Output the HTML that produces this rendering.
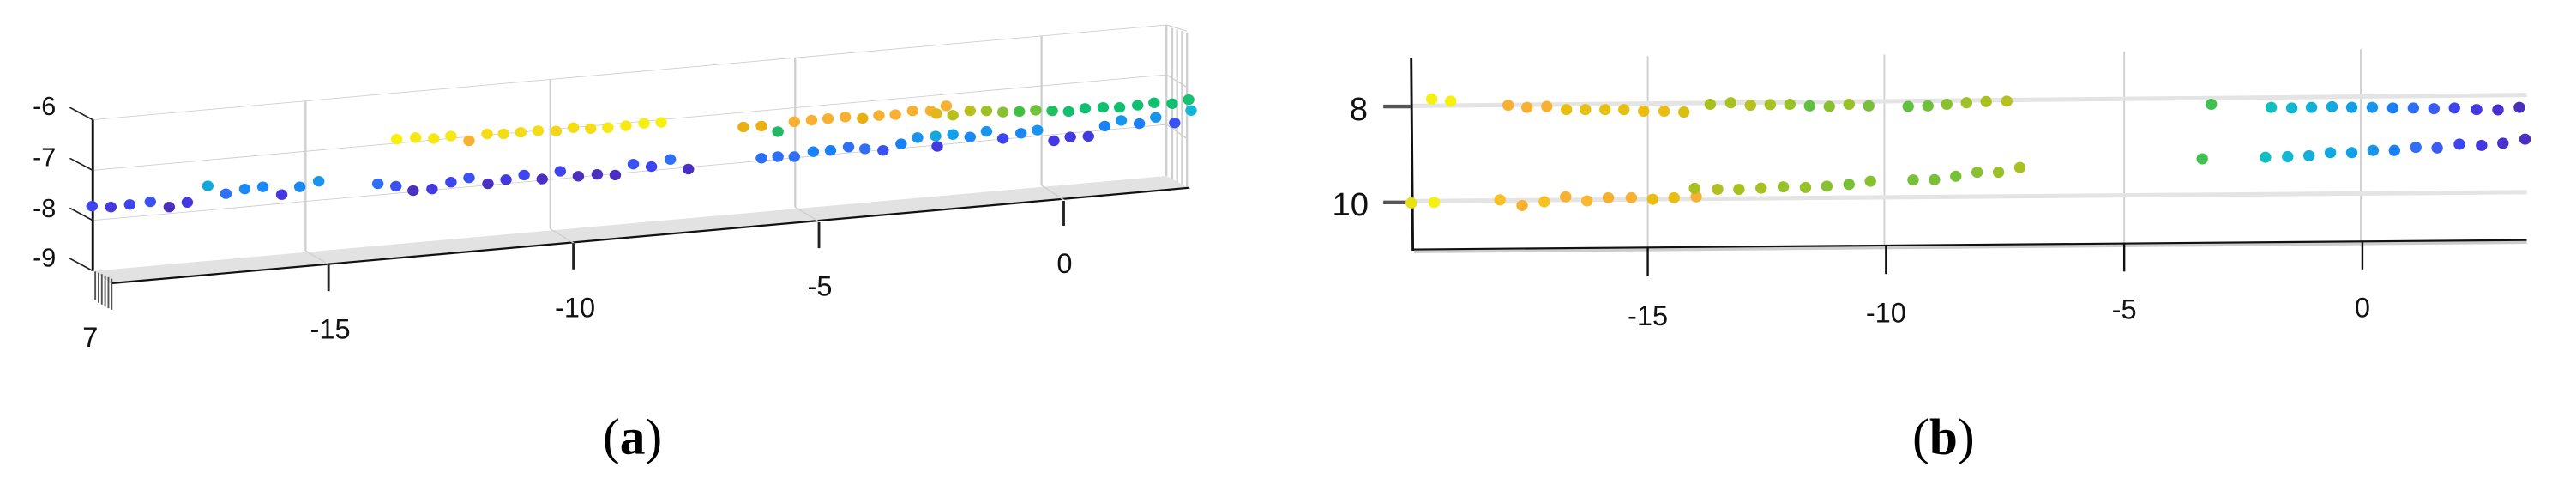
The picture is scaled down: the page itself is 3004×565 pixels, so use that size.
<!DOCTYPE html>
<html><head><meta charset="utf-8"><style>
html,body{margin:0;padding:0;background:#fff;}
svg{display:block;}
</style></head><body>
<svg width="3004" height="565" viewBox="0 0 1568 295" preserveAspectRatio="none" xmlns="http://www.w3.org/2000/svg">
<rect width="1568" height="295" fill="#fff"/>
<g transform="scale(0.5,0.1894)">
  <polygon points="115,870 1420,565 1445,600 135,910" fill="#e2e2e2"/>
  <line x1="135" y1="910" x2="1448" y2="603" stroke="#111" stroke-width="6"/>
  <g stroke="#cfcfcf" stroke-width="2.4" fill="none">
    <line x1="112" y1="385" x2="1420" y2="80"/>
    <line x1="112" y1="547" x2="1420" y2="240"/>
    <line x1="112" y1="708" x2="1420" y2="400"/>
    <line x1="1420" y1="240" x2="1445" y2="280"/>
    <line x1="1420" y1="400" x2="1445" y2="445"/>
    <line x1="1420" y1="80" x2="1445" y2="100"/>
    <line x1="372" y1="325" x2="372" y2="805"/>
    <line x1="670" y1="255" x2="670" y2="735"/>
    <line x1="968" y1="185" x2="968" y2="665"/>
    <line x1="1268" y1="115" x2="1268" y2="595"/>
    <line x1="1420" y1="80" x2="1420" y2="565"/>
    <line x1="1427" y1="90" x2="1427" y2="575"/>
    <line x1="1433" y1="95" x2="1433" y2="585"/>
    <line x1="1439" y1="100" x2="1439" y2="592"/>
    <line x1="1445" y1="105" x2="1445" y2="600"/>
    <line x1="372" y1="805" x2="400" y2="850"/>
    <line x1="670" y1="735" x2="698" y2="780"/>
    <line x1="968" y1="665" x2="997" y2="712"/>
    <line x1="1268" y1="595" x2="1295" y2="642"/>
  </g>
  <line x1="113" y1="385" x2="113" y2="870" stroke="#111" stroke-width="3"/>
  <g stroke="#222" stroke-width="3">
    <line x1="85" y1="345" x2="113" y2="385"/>
    <line x1="85" y1="508" x2="113" y2="547"/>
    <line x1="85" y1="668" x2="113" y2="708"/>
    <line x1="85" y1="830" x2="113" y2="870"/>
    <line x1="400" y1="850" x2="400" y2="935"/>
    <line x1="698" y1="782" x2="698" y2="865"/>
    <line x1="997" y1="714" x2="997" y2="797"/>
    <line x1="1295" y1="645" x2="1295" y2="725"/>
  </g>
  <g stroke="#555" stroke-width="2">
    <line x1="116" y1="872" x2="116" y2="965"/>
    <line x1="120" y1="876" x2="120" y2="972"/>
    <line x1="124" y1="880" x2="124" y2="978"/>
    <line x1="128" y1="885" x2="128" y2="985"/>
    <line x1="132" y1="890" x2="132" y2="990"/>
    <line x1="136" y1="895" x2="136" y2="995"/>
  </g>
  <g>
    <ellipse cx="112" cy="662" rx="7" ry="17" fill="#3e45ee"/>
    <ellipse cx="135" cy="665" rx="7" ry="17" fill="#4438e0"/>
    <ellipse cx="158" cy="657" rx="7" ry="17" fill="#3e45ee"/>
    <ellipse cx="183" cy="648" rx="7" ry="17" fill="#3a52f5"/>
    <ellipse cx="206" cy="665" rx="7" ry="17" fill="#4a2fc0"/>
    <ellipse cx="228" cy="650" rx="7" ry="17" fill="#4438e0"/>
    <ellipse cx="253" cy="597" rx="7" ry="17" fill="#12a8e0"/>
    <ellipse cx="275" cy="622" rx="7" ry="17" fill="#2f6ff8"/>
    <ellipse cx="298" cy="607" rx="7" ry="17" fill="#1a88f5"/>
    <ellipse cx="320" cy="600" rx="7" ry="17" fill="#1a88f5"/>
    <ellipse cx="343" cy="625" rx="7" ry="17" fill="#4438e0"/>
    <ellipse cx="365" cy="600" rx="7" ry="17" fill="#1a88f5"/>
    <ellipse cx="388" cy="582" rx="7" ry="17" fill="#1a95ee"/>
    <ellipse cx="460" cy="590" rx="7" ry="17" fill="#2f6ff8"/>
    <ellipse cx="482" cy="598" rx="7" ry="17" fill="#3a52f5"/>
    <ellipse cx="503" cy="612" rx="7" ry="17" fill="#4a2fc0"/>
    <ellipse cx="526" cy="607" rx="7" ry="17" fill="#4438e0"/>
    <ellipse cx="549" cy="585" rx="7" ry="17" fill="#3e45ee"/>
    <ellipse cx="571" cy="571" rx="7" ry="17" fill="#3a52f5"/>
    <ellipse cx="594" cy="590" rx="7" ry="17" fill="#4a2fc0"/>
    <ellipse cx="616" cy="577" rx="7" ry="17" fill="#4438e0"/>
    <ellipse cx="638" cy="562" rx="7" ry="17" fill="#3e45ee"/>
    <ellipse cx="660" cy="575" rx="7" ry="17" fill="#4a2fc0"/>
    <ellipse cx="682" cy="550" rx="7" ry="17" fill="#3e45ee"/>
    <ellipse cx="704" cy="566" rx="7" ry="17" fill="#4a2fc0"/>
    <ellipse cx="727" cy="560" rx="7" ry="17" fill="#4a2fc0"/>
    <ellipse cx="749" cy="562" rx="7" ry="17" fill="#4a2fc0"/>
    <ellipse cx="771" cy="527" rx="7" ry="17" fill="#3a52f5"/>
    <ellipse cx="793" cy="535" rx="7" ry="17" fill="#3e45ee"/>
    <ellipse cx="816" cy="512" rx="7" ry="17" fill="#2f6ff8"/>
    <ellipse cx="838" cy="543" rx="7" ry="17" fill="#4a2fc0"/>
    <ellipse cx="483" cy="447" rx="7" ry="17" fill="#f5f010"/>
    <ellipse cx="506" cy="442" rx="7" ry="17" fill="#f5e814"/>
    <ellipse cx="528" cy="445" rx="7" ry="17" fill="#f5e814"/>
    <ellipse cx="549" cy="437" rx="7" ry="17" fill="#f5e814"/>
    <ellipse cx="571" cy="452" rx="7" ry="17" fill="#f8b030"/>
    <ellipse cx="593" cy="430" rx="7" ry="17" fill="#f5dc18"/>
    <ellipse cx="613" cy="430" rx="7" ry="17" fill="#f5dc18"/>
    <ellipse cx="634" cy="425" rx="7" ry="17" fill="#f5dc18"/>
    <ellipse cx="655" cy="420" rx="7" ry="17" fill="#f5dc18"/>
    <ellipse cx="677" cy="421" rx="7" ry="17" fill="#f5d41c"/>
    <ellipse cx="698" cy="410" rx="7" ry="17" fill="#f5dc18"/>
    <ellipse cx="719" cy="413" rx="7" ry="17" fill="#f5dc18"/>
    <ellipse cx="740" cy="410" rx="7" ry="17" fill="#f5e814"/>
    <ellipse cx="762" cy="404" rx="7" ry="17" fill="#f5e814"/>
    <ellipse cx="784" cy="396" rx="7" ry="17" fill="#f5f010"/>
    <ellipse cx="805" cy="393" rx="7" ry="17" fill="#f5f010"/>
    <ellipse cx="905" cy="408" rx="7" ry="17" fill="#e8b010"/>
    <ellipse cx="927" cy="405" rx="7" ry="17" fill="#e8b010"/>
    <ellipse cx="947" cy="423" rx="7" ry="17" fill="#20b860"/>
    <ellipse cx="967" cy="391" rx="7" ry="17" fill="#f8b030"/>
    <ellipse cx="988" cy="386" rx="7" ry="17" fill="#f8b030"/>
    <ellipse cx="1008" cy="381" rx="7" ry="17" fill="#f8b030"/>
    <ellipse cx="1029" cy="376" rx="7" ry="17" fill="#f8b030"/>
    <ellipse cx="1050" cy="380" rx="7" ry="17" fill="#e8b010"/>
    <ellipse cx="1070" cy="371" rx="7" ry="17" fill="#f8b030"/>
    <ellipse cx="1090" cy="368" rx="7" ry="17" fill="#f8b030"/>
    <ellipse cx="1111" cy="356" rx="7" ry="17" fill="#f8b030"/>
    <ellipse cx="1133" cy="356" rx="7" ry="17" fill="#f8b030"/>
    <ellipse cx="1140" cy="365" rx="7" ry="17" fill="#e0b818"/>
    <ellipse cx="1152" cy="340" rx="7" ry="17" fill="#f8b030"/>
    <ellipse cx="1160" cy="370" rx="7" ry="17" fill="#b8c020"/>
    <ellipse cx="1181" cy="356" rx="7" ry="17" fill="#b8c020"/>
    <ellipse cx="1201" cy="356" rx="7" ry="17" fill="#a0c028"/>
    <ellipse cx="1221" cy="360" rx="7" ry="17" fill="#88c030"/>
    <ellipse cx="1241" cy="358" rx="7" ry="17" fill="#40c040"/>
    <ellipse cx="1261" cy="354" rx="7" ry="17" fill="#70c038"/>
    <ellipse cx="1281" cy="356" rx="7" ry="17" fill="#20c060"/>
    <ellipse cx="1301" cy="358" rx="7" ry="17" fill="#10c070"/>
    <ellipse cx="1321" cy="348" rx="7" ry="17" fill="#10c070"/>
    <ellipse cx="1343" cy="345" rx="7" ry="17" fill="#10c070"/>
    <ellipse cx="1363" cy="345" rx="7" ry="17" fill="#10c070"/>
    <ellipse cx="1385" cy="338" rx="7" ry="17" fill="#10c070"/>
    <ellipse cx="1405" cy="330" rx="7" ry="17" fill="#10c070"/>
    <ellipse cx="1427" cy="333" rx="7" ry="17" fill="#10c070"/>
    <ellipse cx="1447" cy="320" rx="7" ry="17" fill="#18c070"/>
    <ellipse cx="1450" cy="355" rx="7" ry="17" fill="#10b8d8"/>
    <ellipse cx="927" cy="508" rx="7" ry="17" fill="#2f6ff8"/>
    <ellipse cx="947" cy="503" rx="7" ry="17" fill="#2f6ff8"/>
    <ellipse cx="967" cy="503" rx="7" ry="17" fill="#2f6ff8"/>
    <ellipse cx="990" cy="487" rx="7" ry="17" fill="#1a80f5"/>
    <ellipse cx="1011" cy="483" rx="7" ry="17" fill="#1a80f5"/>
    <ellipse cx="1033" cy="472" rx="7" ry="17" fill="#2f6ff8"/>
    <ellipse cx="1053" cy="478" rx="7" ry="17" fill="#2f6ff8"/>
    <ellipse cx="1075" cy="483" rx="7" ry="17" fill="#3a52f5"/>
    <ellipse cx="1097" cy="462" rx="7" ry="17" fill="#1a80f5"/>
    <ellipse cx="1117" cy="442" rx="7" ry="17" fill="#1a95ee"/>
    <ellipse cx="1139" cy="437" rx="7" ry="17" fill="#12a8e0"/>
    <ellipse cx="1141" cy="470" rx="7" ry="17" fill="#4438e0"/>
    <ellipse cx="1160" cy="432" rx="7" ry="17" fill="#12a0e8"/>
    <ellipse cx="1181" cy="440" rx="7" ry="17" fill="#1a88f5"/>
    <ellipse cx="1201" cy="422" rx="7" ry="17" fill="#1a95ee"/>
    <ellipse cx="1221" cy="445" rx="7" ry="17" fill="#3e45ee"/>
    <ellipse cx="1243" cy="428" rx="7" ry="17" fill="#1a88f5"/>
    <ellipse cx="1263" cy="418" rx="7" ry="17" fill="#1a95ee"/>
    <ellipse cx="1283" cy="452" rx="7" ry="17" fill="#4438e0"/>
    <ellipse cx="1303" cy="440" rx="7" ry="17" fill="#4438e0"/>
    <ellipse cx="1325" cy="438" rx="7" ry="17" fill="#4438e0"/>
    <ellipse cx="1345" cy="405" rx="7" ry="17" fill="#1a80f5"/>
    <ellipse cx="1365" cy="387" rx="7" ry="17" fill="#1a95ee"/>
    <ellipse cx="1387" cy="397" rx="7" ry="17" fill="#1a80f5"/>
    <ellipse cx="1407" cy="377" rx="7" ry="17" fill="#1a95ee"/>
    <ellipse cx="1430" cy="395" rx="7" ry="17" fill="#3a52f5"/>
  </g>
</g>
<g font-family="Liberation Sans, sans-serif" font-size="16" fill="#111" text-anchor="middle">
  <text x="27" y="70">-6</text>
  <text x="27" y="101">-7</text>
  <text x="27" y="132">-8</text>
  <text x="27" y="162">-9</text>
</g>
<g font-family="Liberation Sans, sans-serif" font-size="17" fill="#111" text-anchor="middle">
  <text x="55" y="211">7</text>
  <text x="201" y="206">-15</text>
  <text x="350" y="193">-10</text>
  <text x="499" y="180">-5</text>
  <text x="648" y="166">0</text>
</g>
<text x="385" y="276" font-family="Liberation Serif, serif" font-size="31" text-anchor="middle" fill="#000">(<tspan font-weight="bold">a</tspan>)</text>

<g transform="translate(783,0) scale(0.5,0.1894)">
  <g stroke="#d0d0d0" stroke-width="2">
    <line x1="440" y1="180" x2="440" y2="798"/>
    <line x1="728" y1="175" x2="728" y2="792"/>
    <line x1="1020" y1="165" x2="1020" y2="785"/>
    <line x1="1308" y1="158" x2="1308" y2="776"/>
  </g>
  <g stroke="#e4e4e4" stroke-width="14">
    <line x1="152" y1="340" x2="1510" y2="305"/>
    <line x1="152" y1="646" x2="1510" y2="617"/>
  </g>
  <line x1="155" y1="808" x2="1510" y2="778" stroke="#ccc" stroke-width="10"/>
  <line x1="155" y1="801" x2="1510" y2="771" stroke="#111" stroke-width="6"/>
  <line x1="152" y1="185" x2="154" y2="805" stroke="#111" stroke-width="3"/>
  <g stroke="#555" stroke-width="12">
    <line x1="118" y1="342" x2="152" y2="342"/>
    <line x1="118" y1="650" x2="152" y2="650"/>
  </g>
  <g stroke="#111" stroke-width="2.5">
    <line x1="440" y1="796" x2="440" y2="885"/>
    <line x1="730" y1="790" x2="730" y2="880"/>
    <line x1="1020" y1="784" x2="1020" y2="872"/>
    <line x1="1310" y1="776" x2="1310" y2="865"/>
  </g>
  <g>
    <ellipse cx="177" cy="318" rx="7" ry="18" fill="#f5f010"/>
    <ellipse cx="200" cy="325" rx="7" ry="18" fill="#f5f010"/>
    <ellipse cx="270" cy="338" rx="7" ry="18" fill="#f8b030"/>
    <ellipse cx="293" cy="345" rx="7" ry="18" fill="#f8b030"/>
    <ellipse cx="317" cy="342" rx="7" ry="18" fill="#f8b030"/>
    <ellipse cx="341" cy="352" rx="7" ry="18" fill="#e6c010"/>
    <ellipse cx="364" cy="352" rx="7" ry="18" fill="#e6c010"/>
    <ellipse cx="388" cy="352" rx="7" ry="18" fill="#e6c010"/>
    <ellipse cx="411" cy="352" rx="7" ry="18" fill="#e6c010"/>
    <ellipse cx="435" cy="357" rx="7" ry="18" fill="#ecbc10"/>
    <ellipse cx="460" cy="357" rx="7" ry="18" fill="#ecbc10"/>
    <ellipse cx="484" cy="360" rx="7" ry="18" fill="#d8c010"/>
    <ellipse cx="516" cy="335" rx="7" ry="18" fill="#a8c020"/>
    <ellipse cx="541" cy="330" rx="7" ry="18" fill="#a8c020"/>
    <ellipse cx="565" cy="338" rx="7" ry="18" fill="#b8c020"/>
    <ellipse cx="589" cy="336" rx="7" ry="18" fill="#a8c020"/>
    <ellipse cx="613" cy="335" rx="7" ry="18" fill="#98c028"/>
    <ellipse cx="637" cy="340" rx="7" ry="18" fill="#60c040"/>
    <ellipse cx="661" cy="342" rx="7" ry="18" fill="#88c030"/>
    <ellipse cx="685" cy="335" rx="7" ry="18" fill="#98c028"/>
    <ellipse cx="709" cy="340" rx="7" ry="18" fill="#78c038"/>
    <ellipse cx="757" cy="342" rx="7" ry="18" fill="#60c040"/>
    <ellipse cx="781" cy="340" rx="7" ry="18" fill="#70c038"/>
    <ellipse cx="804" cy="335" rx="7" ry="18" fill="#88c030"/>
    <ellipse cx="828" cy="330" rx="7" ry="18" fill="#a0c028"/>
    <ellipse cx="852" cy="326" rx="7" ry="18" fill="#a8c020"/>
    <ellipse cx="877" cy="325" rx="7" ry="18" fill="#b8c020"/>
    <ellipse cx="1126" cy="335" rx="7" ry="18" fill="#40c050"/>
    <ellipse cx="1199" cy="345" rx="7" ry="18" fill="#10c0c0"/>
    <ellipse cx="1224" cy="347" rx="7" ry="18" fill="#10b8d0"/>
    <ellipse cx="1248" cy="345" rx="7" ry="18" fill="#10b0d8"/>
    <ellipse cx="1273" cy="343" rx="7" ry="18" fill="#10a8e0"/>
    <ellipse cx="1297" cy="345" rx="7" ry="18" fill="#10a0e8"/>
    <ellipse cx="1322" cy="345" rx="7" ry="18" fill="#1a95ee"/>
    <ellipse cx="1347" cy="347" rx="7" ry="18" fill="#1a80f5"/>
    <ellipse cx="1372" cy="347" rx="7" ry="18" fill="#2f6ff8"/>
    <ellipse cx="1397" cy="349" rx="7" ry="18" fill="#3a5cf5"/>
    <ellipse cx="1422" cy="347" rx="7" ry="18" fill="#3e45ee"/>
    <ellipse cx="1449" cy="352" rx="7" ry="18" fill="#4438e0"/>
    <ellipse cx="1475" cy="353" rx="7" ry="18" fill="#4a30d0"/>
    <ellipse cx="1501" cy="345" rx="7" ry="18" fill="#4a2fc0"/>
    <ellipse cx="152" cy="652" rx="7" ry="18" fill="#e8e010"/>
    <ellipse cx="180" cy="650" rx="7" ry="18" fill="#f5f010"/>
    <ellipse cx="260" cy="642" rx="7" ry="18" fill="#f8c020"/>
    <ellipse cx="287" cy="660" rx="7" ry="18" fill="#f8b030"/>
    <ellipse cx="314" cy="648" rx="7" ry="18" fill="#f8c020"/>
    <ellipse cx="340" cy="632" rx="7" ry="18" fill="#f8b030"/>
    <ellipse cx="366" cy="645" rx="7" ry="18" fill="#f8b830"/>
    <ellipse cx="392" cy="635" rx="7" ry="18" fill="#f8b030"/>
    <ellipse cx="420" cy="635" rx="7" ry="18" fill="#f8b030"/>
    <ellipse cx="446" cy="640" rx="7" ry="18" fill="#e8bc10"/>
    <ellipse cx="472" cy="635" rx="7" ry="18" fill="#e8bc10"/>
    <ellipse cx="499" cy="632" rx="7" ry="18" fill="#f8b030"/>
    <ellipse cx="497" cy="605" rx="7" ry="18" fill="#a8c020"/>
    <ellipse cx="525" cy="608" rx="7" ry="18" fill="#b0c020"/>
    <ellipse cx="551" cy="608" rx="7" ry="18" fill="#a8c020"/>
    <ellipse cx="578" cy="604" rx="7" ry="18" fill="#a8c020"/>
    <ellipse cx="605" cy="600" rx="7" ry="18" fill="#98c028"/>
    <ellipse cx="632" cy="602" rx="7" ry="18" fill="#98c028"/>
    <ellipse cx="658" cy="598" rx="7" ry="18" fill="#88c030"/>
    <ellipse cx="685" cy="592" rx="7" ry="18" fill="#78c038"/>
    <ellipse cx="711" cy="582" rx="7" ry="18" fill="#88c030"/>
    <ellipse cx="763" cy="578" rx="7" ry="18" fill="#78c038"/>
    <ellipse cx="789" cy="577" rx="7" ry="18" fill="#78c038"/>
    <ellipse cx="815" cy="566" rx="7" ry="18" fill="#78c038"/>
    <ellipse cx="841" cy="553" rx="7" ry="18" fill="#88c030"/>
    <ellipse cx="867" cy="553" rx="7" ry="18" fill="#98c028"/>
    <ellipse cx="893" cy="538" rx="7" ry="18" fill="#a8c020"/>
    <ellipse cx="1115" cy="510" rx="7" ry="18" fill="#40c050"/>
    <ellipse cx="1192" cy="505" rx="7" ry="18" fill="#10c0c0"/>
    <ellipse cx="1219" cy="503" rx="7" ry="18" fill="#10b8d0"/>
    <ellipse cx="1245" cy="500" rx="7" ry="18" fill="#10b0d8"/>
    <ellipse cx="1271" cy="490" rx="7" ry="18" fill="#10a8e0"/>
    <ellipse cx="1297" cy="490" rx="7" ry="18" fill="#10a0e8"/>
    <ellipse cx="1323" cy="483" rx="7" ry="18" fill="#1a95ee"/>
    <ellipse cx="1349" cy="483" rx="7" ry="18" fill="#1a80f5"/>
    <ellipse cx="1375" cy="473" rx="7" ry="18" fill="#2f6ff8"/>
    <ellipse cx="1401" cy="475" rx="7" ry="18" fill="#3a5cf5"/>
    <ellipse cx="1428" cy="463" rx="7" ry="18" fill="#3e45ee"/>
    <ellipse cx="1455" cy="467" rx="7" ry="18" fill="#4438e0"/>
    <ellipse cx="1481" cy="460" rx="7" ry="18" fill="#4a30d0"/>
    <ellipse cx="1508" cy="447" rx="7" ry="18" fill="#4a2fc0"/>
  </g>
</g>
<g font-family="Liberation Sans, sans-serif" font-size="20" fill="#111" text-anchor="middle">
  <text x="827" y="73">8</text>
  <text x="822" y="131">10</text>
</g>
<g font-family="Liberation Sans, sans-serif" font-size="17" fill="#111" text-anchor="middle">
  <text x="1003" y="198">-15</text>
  <text x="1148" y="196">-10</text>
  <text x="1293" y="194">-5</text>
  <text x="1438" y="193">0</text>
</g>
<text x="1183" y="276" font-family="Liberation Serif, serif" font-size="31" text-anchor="middle" fill="#000">(<tspan font-weight="bold">b</tspan>)</text>
</svg>
</body></html>
